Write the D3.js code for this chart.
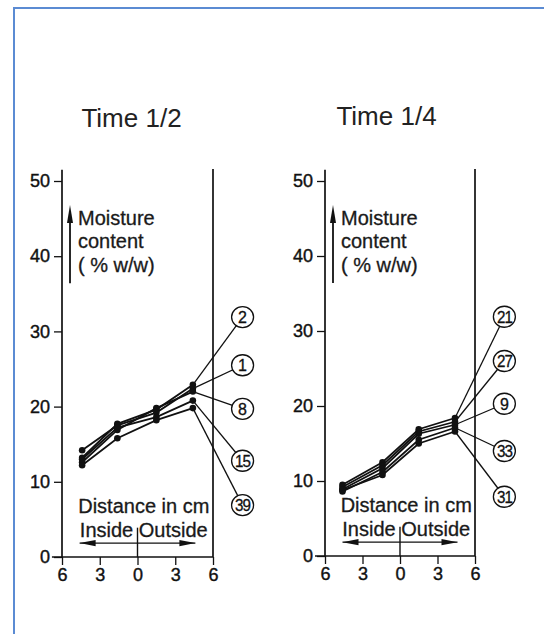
<!DOCTYPE html>
<html>
<head>
<meta charset="utf-8">
<script src="https://cdn.jsdelivr.net/npm/d3@7"></script>
<style>
  body { margin: 0; background: #fff; }
  svg { display: block; font-family: "Liberation Sans", Arial, sans-serif; }
</style>
</head>
<body>
<svg id="chart"></svg>
<script>
const width = 544;
const height = 634;

// shared axes
const xTicks = [-6, -3, 0, 3, 6];
const yTicks = [0, 10, 20, 30, 40, 50];

// Time 1/2 panel
const halfIds = ["2", "1", "8", "15", "39"];
const halfX = [-4.4, -1.6, 1.5, 4.4];
const halfValues = [
  [13.2, 17.7, 19.6, 22.9],
  [14.2, 17.5, 19.2, 22.4],
  [12.6, 16.9, 19.8, 22.0],
  [13.0, 17.2, 18.6, 20.8],
  [12.2, 15.8, 18.2, 19.8]
];
const halfLabelY = [31.9, 25.5, 19.7, 12.8, 6.9];

// Time 1/4 panel
const quarterIds = ["21", "27", "9", "33", "31"];
const quarterX = [-4.6, -1.4, 1.5, 4.4];
const quarterValues = [
  [9.5, 12.5, 16.9, 18.4],
  [9.2, 12.1, 16.6, 17.9],
  [8.9, 11.7, 16.3, 17.5],
  [8.6, 11.2, 15.5, 17.1],
  [8.8, 10.8, 15.0, 16.6]
];
const quarterLabelY = [31.9, 26.0, 20.3, 14.0, 7.9];

const labelX = 8.35;

const panels = [
  { title: "Time 1/2", ids: halfIds, xs: halfX, values: halfValues, labelY: halfLabelY,
    left: 62, right: 213, bottom: 557, top: 181, titleX: 131.5, titleY: 127 },
  { title: "Time 1/4", ids: quarterIds, xs: quarterX, values: quarterValues, labelY: quarterLabelY,
    left: 325, right: 475, bottom: 556, top: 181, titleX: 386.5, titleY: 125 }
];

const ink = "#111";

const svg = d3.select("#chart")
    .attr("width", width)
    .attr("height", height);

// frame
svg.append("rect")
    .attr("x", 14)
    .attr("y", 8)
    .attr("width", 560)
    .attr("height", 700)
    .attr("fill", "none")
    .attr("stroke", "#5b8bd3")
    .attr("stroke-width", 2);

function drawPanel(p) {
  const x = d3.scaleLinear().domain([-6, 6]).range([p.left, p.right]);
  const y = d3.scaleLinear().domain([0, 50]).range([p.bottom, p.top]);
  const g = svg.append("g");

  g.append("text")
      .attr("x", p.titleX)
      .attr("y", p.titleY)
      .attr("text-anchor", "middle")
      .attr("font-size", 26)
      .attr("fill", "#222")
      .text(p.title);

  // axes
  const yAxis = d3.axisLeft(y)
    .tickValues(yTicks)
    .tickSize(8)
    .tickPadding(4)
    .tickSizeOuter(0);

  const xAxis = d3.axisBottom(x)
    .tickValues(xTicks)
    .tickSize(8)
    .tickPadding(3)
    .tickFormat(d => Math.abs(d))
    .tickSizeOuter(0);

  const ya = g.append("g")
      .attr("transform", `translate(${x(-6)}, 0)`)
      .call(yAxis);
  ya.select(".domain").remove();

  const xa = g.append("g")
      .attr("transform", `translate(0, ${y(0)})`)
      .call(xAxis);
  xa.select(".domain").remove();

  [ya, xa].forEach(a => {
    a.selectAll("text")
      .attr("font-size", 18)
      .attr("fill", ink)
      .attr("stroke", ink)
      .attr("stroke-width", 0.4)
      .attr("font-family", "Liberation Sans, Arial, sans-serif");
    a.selectAll("line").attr("stroke", ink).attr("stroke-width", 1.3);
  });

  // axis lines
  g.append("line")
      .attr("x1", x(-6)).attr("x2", x(-6))
      .attr("y1", y(51.5)).attr("y2", y(0))
      .attr("stroke", ink).attr("stroke-width", 1.7);
  g.append("line")
      .attr("x1", x(-6.8)).attr("x2", x(6))
      .attr("y1", y(0)).attr("y2", y(0))
      .attr("stroke", ink).attr("stroke-width", 1.7);
  g.append("line")
      .attr("x1", x(6)).attr("x2", x(6))
      .attr("y1", y(51.6)).attr("y2", y(0))
      .attr("stroke", ink).attr("stroke-width", 1.7);

  // moisture arrow + label
  const ax = x(-6) + 8;
  g.append("line")
      .attr("x1", ax).attr("x2", ax)
      .attr("y1", y(36.4)).attr("y2", y(45.5))
      .attr("stroke", ink).attr("stroke-width", 1.8);
  g.append("path")
      .attr("d", `M${ax},${y(46.8)} L${ax - 3},${y(44.4)} L${ax + 3},${y(44.4)} Z`)
      .attr("fill", ink);
  g.append("text")
      .attr("x", x(-6) + 16)
      .attr("font-size", 20)
      .attr("fill", "#1a1a1a")
      .attr("stroke", "#1a1a1a")
      .attr("stroke-width", 0.3)
      .selectAll("tspan")
      .data(["Moisture", "content", "( % w/w)"])
      .join("tspan")
      .attr("x", x(-6) + 16)
      .attr("y", (d, i) => y([44.2, 41.1, 37.9][i]))
      .text(d => d);

  // distance label + arrows
  g.append("text")
      .attr("x", x(0.5))
      .attr("y", y(5.85))
      .attr("text-anchor", "middle")
      .attr("font-size", 20)
      .attr("fill", "#1a1a1a")
      .attr("stroke", "#1a1a1a")
      .attr("stroke-width", 0.3)
      .text("Distance in cm");
  g.append("text")
      .attr("x", x(0.5))
      .attr("y", y(2.7))
      .attr("text-anchor", "middle")
      .attr("font-size", 20)
      .attr("fill", "#1a1a1a")
      .attr("stroke", "#1a1a1a")
      .attr("stroke-width", 0.3)
      .text("Inside Outside");
  g.append("line")
      .attr("x1", x(0)).attr("x2", x(0))
      .attr("y1", y(3.9)).attr("y2", y(0))
      .attr("stroke", ink).attr("stroke-width", 1.4);
  const ay = y(1.85);
  g.append("line")
      .attr("x1", x(-4.6)).attr("x2", x(4.6))
      .attr("y1", ay).attr("y2", ay)
      .attr("stroke", ink).attr("stroke-width", 1.3);
  g.append("path")
      .attr("d", `M${x(-4.6)},${ay} L${x(-4.6) + 16},${ay - 3.2} L${x(-4.6) + 16},${ay + 3.2} Z`)
      .attr("fill", ink);
  g.append("path")
      .attr("d", `M${x(4.6)},${ay} L${x(4.6) - 16},${ay - 3.2} L${x(4.6) - 16},${ay + 3.2} Z`)
      .attr("fill", ink);

  // series
  const line = d3.line()
    .x((d, i) => x(p.xs[i]))
    .y(d => y(d));

  const series = p.values.map((v, k) => ({ id: p.ids[k], values: v, labelY: p.labelY[k] }));

  // leader lines
  g.selectAll(".leader")
    .data(series)
    .join("line")
      .attr("class", "leader")
      .attr("x1", x(p.xs[p.xs.length - 1]))
      .attr("y1", d => y(d.values[d.values.length - 1]))
      .attr("x2", x(labelX))
      .attr("y2", d => y(d.labelY))
      .attr("stroke", ink)
      .attr("stroke-width", 1.3);

  g.selectAll(".series")
    .data(series)
    .join("path")
      .attr("class", "series")
      .attr("d", d => line(d.values))
      .attr("fill", "none")
      .attr("stroke", ink)
      .attr("stroke-width", 1.8);

  series.forEach(s => {
    g.selectAll(null)
      .data(s.values)
      .join("circle")
        .attr("cx", (d, i) => x(p.xs[i]))
        .attr("cy", d => y(d))
        .attr("r", 3.3)
        .attr("fill", ink);
  });

  // circled labels
  const lab = g.selectAll(".lab")
    .data(series)
    .join("g")
      .attr("class", "lab")
      .attr("transform", d => `translate(${x(labelX)}, ${y(d.labelY)})`);
  lab.append("ellipse")
      .attr("rx", 11)
      .attr("ry", 10.5)
      .attr("fill", "#fff")
      .attr("stroke", ink)
      .attr("stroke-width", 1.3);
  lab.append("text")
      .attr("text-anchor", "middle")
      .attr("dy", "0.36em")
      .attr("font-size", 16)
      .attr("letter-spacing", d => d.id.length > 1 ? -1 : 0)
      .attr("textLength", d => d.id.length > 1 ? 15 : null)
      .attr("lengthAdjust", "spacingAndGlyphs")
      .attr("fill", ink)
      .attr("stroke", ink)
      .attr("stroke-width", 0.3)
      .text(d => d.id);
}

panels.forEach(drawPanel);
</script>
</body>
</html>
